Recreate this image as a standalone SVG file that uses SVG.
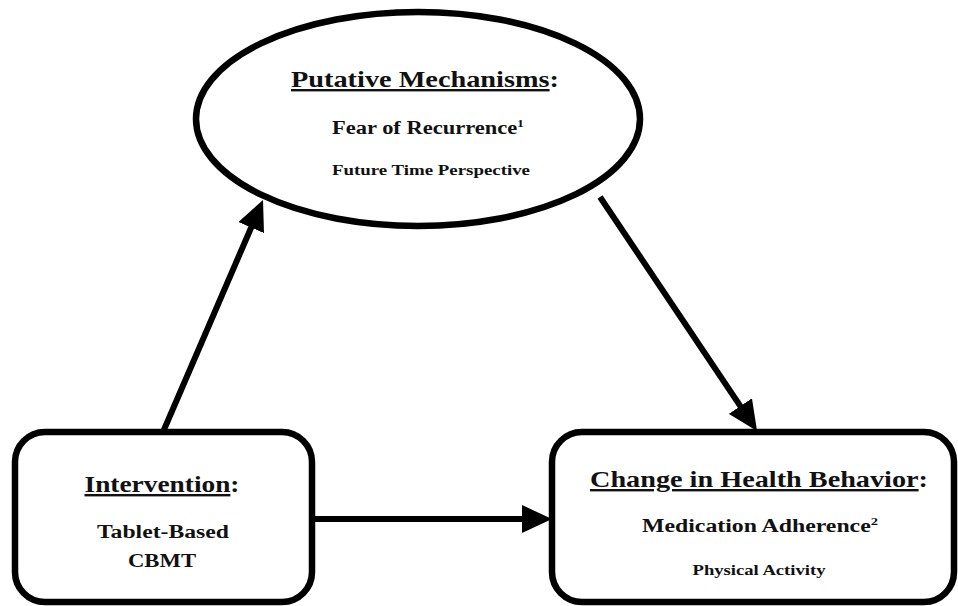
<svg xmlns="http://www.w3.org/2000/svg" width="958" height="606" viewBox="0 0 958 606">
<style>
.shape{fill:#fff;stroke:#000;stroke-width:6.5}
.conn{stroke:#000;stroke-width:6;fill:none}
text{font-family:"Liberation Serif","Times New Roman",serif;font-weight:bold;fill:#111;text-anchor:middle}
.t1{font-size:24px}
.t2{font-size:18px}
.t3{font-size:14px}
.u{text-decoration:underline}
</style>
<defs>
<marker id="ah" viewBox="0 0 30 28" refX="10" refY="14" markerWidth="30" markerHeight="28" markerUnits="userSpaceOnUse" orient="auto">
<polygon points="0,0 30,14 0,28" fill="#000"/>
</marker>
</defs>
<rect width="958" height="606" fill="#fff"/>
<g id="connectors">
<line class="conn" x1="163" y1="432" x2="255.1" y2="218.4" marker-end="url(#ah)"/>
<line class="conn" x1="600" y1="197" x2="745.9" y2="414.4" marker-end="url(#ah)"/>
<line class="conn" x1="312" y1="519" x2="532" y2="519" marker-end="url(#ah)"/>
</g>
<g id="mechanisms">
<ellipse class="shape" cx="418" cy="119" rx="222" ry="107"/>
<text class="t1" x="425" y="87" textLength="268" lengthAdjust="spacingAndGlyphs"><tspan class="u">Putative Mechanisms</tspan>:</text>
<text class="t2" x="428" y="134" textLength="192" lengthAdjust="spacingAndGlyphs">Fear of Recurrence<tspan font-size="11" dy="-7">1</tspan></text>
<text class="t3" x="431" y="175" textLength="198" lengthAdjust="spacingAndGlyphs">Future Time Perspective</text>
</g>
<g id="intervention">
<rect class="shape" x="15" y="432" width="297" height="170" rx="30"/>
<text class="t1" x="162" y="492" textLength="155" lengthAdjust="spacingAndGlyphs"><tspan class="u">Intervention</tspan>:</text>
<text class="t2" x="163" y="538" textLength="132" lengthAdjust="spacingAndGlyphs">Tablet-Based</text>
<text class="t2" x="162" y="567" textLength="68" lengthAdjust="spacingAndGlyphs">CBMT</text>
</g>
<g id="behavior">
<rect class="shape" x="552" y="432" width="402" height="170" rx="30"/>
<text class="t1" x="759" y="487" textLength="338" lengthAdjust="spacingAndGlyphs"><tspan class="u">Change in Health Behavior</tspan>:</text>
<text class="t2" x="760" y="532" textLength="236" lengthAdjust="spacingAndGlyphs">Medication Adherence<tspan font-size="11" dy="-7">2</tspan></text>
<text class="t3" x="759" y="575" textLength="133" lengthAdjust="spacingAndGlyphs">Physical Activity</text>
</g>
</svg>
